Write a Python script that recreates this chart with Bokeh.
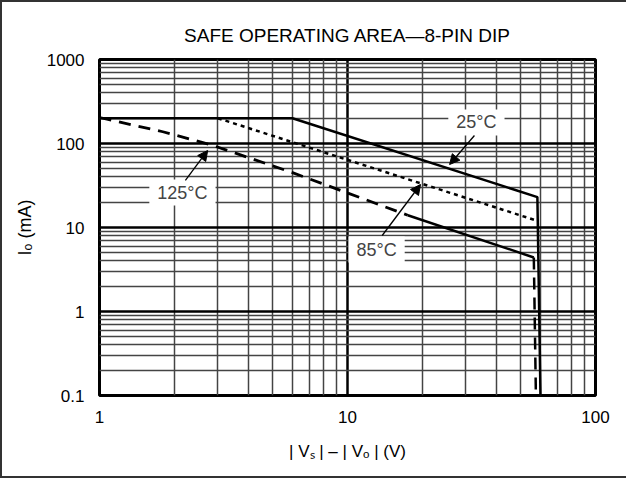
from bokeh.plotting import figure
from bokeh.models import FixedTicker, Label, Arrow, NormalHead, Range1d
from bokeh.embed import file_html
from bokeh.resources import INLINE

# ---------------- data ----------------
x_major = [1, 10, 100]
x_minor = [2, 3, 4, 5, 6, 7, 8, 9, 20, 30, 40, 50, 60, 70, 80, 90]
x_tick_labels = ["1", "10", "100"]

y_major = [0.1, 1, 10, 100, 1000]
y_minor = [0.2, 0.3, 0.4, 0.5, 0.6, 0.7, 0.8, 0.9,
           2, 3, 4, 5, 6, 7, 8, 9,
           20, 30, 40, 50, 60, 70, 80, 90,
           200, 300, 400, 500, 600, 700, 800, 900]
y_tick_labels = ["0.1", "1", "10", "100", "1000"]

# 25 C (solid)
vs_25c = [1, 6, 58.3, 60]
io_25c = [200, 200, 23, 0.1]
# 85 C (dotted)
vs_85c = [3.0, 58.3]
io_85c = [200, 12]
# 125 C (dashed / solid / dashed segments)
vs_125c = [1, 1.8, 2.8, 6, 17.5, 56.4, 57.5]
io_125c = [204, 138, 97, 45, 14.0, 4.4, 0.1]

title_text = "SAFE OPERATING AREA\u20148-PIN DIP"
x_label = "| V\u209b | \u2013 | V\u2092 | (V)"
y_label = "I\u2092 (mA)"
FONT = "Liberation Sans"

# ---------------- figure ----------------
p = figure(width=626, height=478,
           x_axis_type="log", y_axis_type="log",
           x_range=Range1d(1, 100), y_range=Range1d(0.1, 1000),
           output_backend="svg", toolbar_location=None,
           min_border_left=97, min_border_right=33,
           min_border_top=57, min_border_bottom=85)
p.styles = {"border-left": "2px solid #333", "border-top": "2px solid #333",
            "border-bottom": "2px solid #333"}

p.title.text = title_text
p.title.align = "center"
p.title.text_font = FONT
p.title.text_font_size = "19px"
p.title.text_font_style = "normal"
p.title.text_color = "black"
p.title.standoff = 28

p.outline_line_color = "black"
p.outline_line_width = 3
p.background_fill_color = "white"
p.border_fill_color = "white"

p.xaxis.ticker = FixedTicker(ticks=x_major, minor_ticks=x_minor)
p.yaxis.ticker = FixedTicker(ticks=y_major, minor_ticks=y_minor)
p.xaxis.major_label_overrides = {float(k): v for k, v in zip(x_major, x_tick_labels)}
p.yaxis.major_label_overrides = {float(k): v for k, v in zip(y_major, y_tick_labels)}

p.xaxis.axis_label = x_label
p.yaxis.axis_label = y_label

for ax in (p.xaxis[0], p.yaxis[0]):
    ax.axis_line_color = None
    ax.major_tick_line_color = None
    ax.minor_tick_line_color = None
    ax.major_tick_in = 0
    ax.major_tick_out = 0
    ax.minor_tick_in = 0
    ax.minor_tick_out = 0
    ax.major_label_text_font = FONT
    ax.major_label_text_font_size = "17px"
    ax.major_label_text_color = "black"
    ax.axis_label_text_font = FONT
    ax.axis_label_text_font_style = "normal"
    ax.axis_label_text_color = "black"
p.xaxis.axis_label_text_font_size = "17px"
p.yaxis.axis_label_text_font_size = "18px"
p.xaxis.major_label_standoff = 15
p.yaxis.major_label_standoff = 15
p.xaxis.axis_label_standoff = 16
p.yaxis.axis_label_standoff = 9

p.grid.grid_line_color = "black"
p.grid.grid_line_width = 2.5
p.grid.minor_grid_line_color = "#444444"
p.grid.minor_grid_line_width = 1.5

# ---------------- curves ----------------
p.line(vs_25c, io_25c, line_color="black", line_width=2.5)
p.line(vs_85c, io_85c, line_color="black", line_width=2.5, line_dash="4 4")
p.line(vs_125c[0:5], io_125c[0:5], line_color="black", line_width=2.8, line_dash="12 8")
p.line(vs_125c[4:6], io_125c[4:6], line_color="black", line_width=2.5)
p.line(vs_125c[5:7], io_125c[5:7], line_color="black", line_width=2.5, line_dash="12 8")

# ---------------- curve labels and arrows ----------------
curve_labels = [("25\u00b0C", 33.1, 178), ("85\u00b0C", 13.1, 5.47), ("125\u00b0C", 2.16, 26.1)]
for txt, lx, ly in curve_labels:
    p.add_layout(Label(x=lx, y=ly, text=txt, text_font=FONT, text_font_size="18px",
                       text_align="center", text_baseline="middle",
                       background_fill_color="white",
                       padding=dict(left=8, right=8, top=3, bottom=3)))

arrows = [((32.5, 124.5), (25.8, 56.2)),
          ((13.8, 8.03), (19.7, 32.5)),
          ((2.22, 36.3), (2.73, 82.6))]
for (x0, y0), (x1, y1) in arrows:
    p.add_layout(Arrow(x_start=x0, y_start=y0, x_end=x1, y_end=y1,
                       line_color="black", line_width=1.3,
                       end=NormalHead(size=10, fill_color="black", line_color="black")))

open("out.html", "w").write(file_html(p, INLINE))
